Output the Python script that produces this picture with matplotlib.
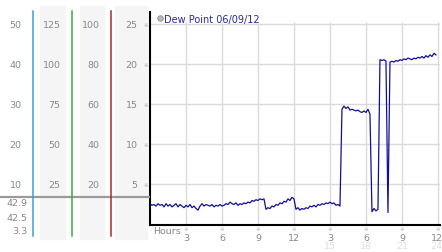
import matplotlib
matplotlib.use("Agg")
import matplotlib.pyplot as plt
import matplotlib.transforms as mtransforms
from matplotlib.patches import Rectangle
from matplotlib.lines import Line2D

# --- data: dew point readings every 10 minutes, 06/09/12 ---
dew_point = [
    2.6, 2.4, 2.5, 2.3, 2.6, 2.4,        # 0h
    2.5, 2.2, 2.6, 2.3, 2.5, 2.2,        # 1h
    2.4, 2.6, 2.2, 2.5, 2.3, 2.1,        # 2h
    2.4, 2.2, 2.5, 2.1, 2.3, 2.0,        # 3h
    1.8, 2.3, 2.6, 2.3, 2.5, 2.4,        # 4h
    2.3, 2.5, 2.2, 2.4, 2.3, 2.5,        # 5h
    2.3, 2.4, 2.6, 2.5, 2.8, 2.6,        # 6h
    2.5, 2.7, 2.4, 2.6, 2.5, 2.7,        # 7h
    2.6, 2.8, 2.7, 3.0, 2.9, 3.1,        # 8h
    3.0, 3.2, 3.1, 3.2, 1.9, 2.1,        # 9h
    2.0, 2.3, 2.2, 2.5, 2.4, 2.7,        # 10h
    2.6, 2.9, 2.8, 3.2, 3.0, 3.4,        # 11h
    3.2, 1.9, 2.1, 1.8, 2.0, 1.9,        # 12h
    2.1, 2.0, 2.3, 2.2, 2.4, 2.2,        # 13h
    2.5, 2.4, 2.6, 2.5, 2.7, 2.6,        # 14h
    2.8, 2.6, 2.7, 2.4, 2.5, 2.3,        # 15h
    14.4, 14.8, 14.5, 14.7, 14.3, 14.4,  # 16h
    14.3, 14.2, 14.3, 14.1, 14.0, 14.2,  # 17h
    14.0, 14.4, 13.8, 1.6, 2.0, 1.7,     # 18h
    1.9, 20.6, 20.5, 20.6, 20.4, 1.5,    # 19h
    20.3, 20.4, 20.3, 20.5, 20.4, 20.6,  # 20h
    20.5, 20.7, 20.6, 20.8, 20.7, 20.6,  # 21h
    20.8, 20.7, 20.9, 20.8, 21.0, 20.8,  # 22h
    21.1, 20.9, 21.2, 21.0, 21.4, 21.2,  # 23h
]
hours = [i / 6 for i in range(len(dew_point))]

y_ticks = [25, 20, 15, 10, 5]
col1_labels = ["50", "40", "30", "20", "10"]
col2_labels = ["125", "100", "75", "50", "25"]
col3_labels = ["100", "80", "60", "40", "20"]
col4_labels = ["25", "20", "15", "10", "5"]
bottom_labels = ["42.9", "42.5", "3.3"]

x_ticks = [3, 6, 9, 12, 15, 18, 21, 24]
x_labels = ["3", "6", "9", "12", "3", "6", "9", "12"]
x_labels2 = {15: "15", 18: "18", 21: "21", 24: "24"}

W, H = 442, 253
fig = plt.figure(figsize=(W / 100, H / 100), dpi=100)
fig.patch.set_facecolor("white")

def fx(px):
    return px / W

def fy(py):
    return 1 - py / H

# main axes
ax = fig.add_axes([fx(150), fy(225.5), fx(440) - fx(150), fy(13) - fy(225.5)])
ax.set_xlim(0, 24.17)
ax.set_ylim(0, 26.56)
ax.set_xticks([])
ax.set_yticks([])
for s in ["top", "right"]:
    ax.spines[s].set_visible(False)
for s in ["left", "bottom"]:
    ax.spines[s].set_color("black")
    ax.spines[s].set_linewidth(1.5)

grid_c = "#dadada"
for yv in y_ticks:
    ax.axhline(yv, color=grid_c, lw=1, zorder=0)
ax.vlines(x_ticks, 0, 25.3, color=grid_c, lw=1, zorder=0)

ax.plot(hours, dew_point, color="#10109a", lw=0.9, zorder=3)

# legend
ax.plot([0.85], [25.8], marker="o", ms=4, mfc="#b8b8b8", mec="#909090", mew=0.6,
        clip_on=False, transform=ax.transData)
fig.text(fx(164), fy(20.5), "Dew Point 06/09/12", color="#2a2aa0", fontsize=7,
         va="center", ha="left")

# left scale panel
bg = "#f5f5f5"
for x0, x1 in [(40, 65), (80, 104), (115, 147)]:
    fig.patches.append(Rectangle((fx(x0), fy(240)), fx(x1) - fx(x0), fy(7) - fy(240),
                                 transform=fig.transFigure, color=bg, zorder=0))
fig.lines.append(Line2D([0, fx(149)], [fy(197.5)] * 2, transform=fig.transFigure,
                        color="#9a9a9a", lw=1.6))
for xp, c in [(33, "#3a9fd4"), (72, "#3aa840"), (111, "#b02a2a")]:
    fig.lines.append(Line2D([fx(xp)] * 2, [fy(237), fy(12)], transform=fig.transFigure,
                            color=c, lw=1.1))

blend_y = mtransforms.blended_transform_factory(fig.transFigure, ax.transData)
txt_c = "#888888"
fs = 6.8
for i, yv in enumerate(y_ticks):
    fig.text(fx(21.5), yv, col1_labels[i], transform=blend_y, ha="right", va="center",
             color=txt_c, fontsize=fs)
    fig.text(fx(60.5), yv, col2_labels[i], transform=blend_y, ha="right", va="center",
             color=txt_c, fontsize=fs)
    fig.text(fx(99.5), yv, col3_labels[i], transform=blend_y, ha="right", va="center",
             color=txt_c, fontsize=fs)
    fig.text(fx(137.5), yv, col4_labels[i], transform=blend_y, ha="right", va="center",
             color=txt_c, fontsize=fs)
    fig.text(fx(146), yv, "\u203b", transform=blend_y, ha="center", va="center",
             color="#b0b0b0", fontsize=4)

for py, lab in zip([204, 219, 232], bottom_labels):
    fig.text(fx(27.5), fy(py), lab, ha="right", va="center", color=txt_c, fontsize=fs)

# x axis labels
blend_x = mtransforms.blended_transform_factory(ax.transData, fig.transFigure)
fig.text(fx(153), fy(231.5), "Hours", ha="left", va="center", color=txt_c, fontsize=fs)
for xv, lab in zip(x_ticks, x_labels):
    fig.text(xv, fy(229.5), "\u203b", transform=blend_x, ha="center", va="center",
             color="#b0b0b0", fontsize=4)
    # the last label sits against the right edge of the image
    xt = xv - 0.12 if xv == 24 else xv
    fig.text(xt, fy(238.5), lab, transform=blend_x, ha="center", va="center",
             color=txt_c, fontsize=fs)
    if xv in x_labels2:
        fig.text(xt, fy(246.5), x_labels2[xv], transform=blend_x, ha="center",
                 va="center", color="#dedede", fontsize=fs)

fig.savefig("out.png", dpi=100)
